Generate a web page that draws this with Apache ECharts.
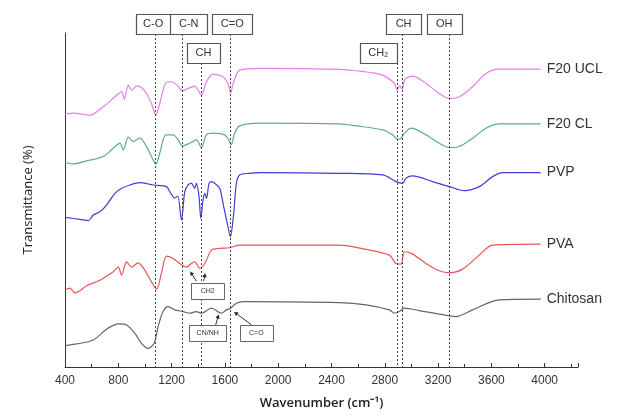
<!DOCTYPE html>
<html>
<head>
<meta charset="utf-8">
<script src="https://cdn.jsdelivr.net/npm/echarts@6/dist/echarts.min.js"></script>
<style>
  html, body { margin: 0; padding: 0; background: #fff; }
  #main { width: 624px; height: 418px; }
</style>
</head>
<body>
<div id="main"></div>
<script>
// FTIR spectra, [wavenumber, transmittance (offset, a.u.)]
var f20ucl = [
  [400, 75.7], [462, 76.0], [587, 75.4], [687, 77.9], [775, 80.9], [825, 82.4],
  [845, 80.2], [875, 84.4], [900, 82.9], [937, 84.1], [974, 83.7], [1012, 81.9],
  [1049, 78.9], [1082, 75.4], [1111, 78.9], [1157, 85.1], [1199, 85.4], [1241, 84.4],
  [1281, 82.7], [1324, 83.4], [1373, 84.1], [1424, 81.4], [1461, 85.4], [1511, 87.7],
  [1586, 86.9], [1623, 84.9], [1643, 82.1], [1666, 85.4], [1711, 88.9], [1861, 89.4],
  [2460, 89.1], [2585, 88.7], [2784, 87.4], [2872, 84.9], [2893, 83.0], [2910, 84.2],
  [2930, 83.2], [2945, 85.6], [2965, 86.6], [3009, 87.1], [3109, 84.9], [3209, 81.9],
  [3284, 80.4], [3359, 80.9], [3459, 83.9], [3559, 87.9], [3658, 89.2], [3970, 89.2]
];
var f20cl = [
  [400, 61.3], [462, 60.8], [562, 61.7], [687, 63.0], [775, 66.0], [812, 67.0],
  [837, 65.0], [875, 68.8], [912, 67.5], [962, 68.5], [1012, 66.0], [1049, 63.0],
  [1082, 60.8], [1111, 64.0], [1157, 69.5], [1211, 69.5], [1249, 68.0], [1281, 66.2],
  [1336, 67.0], [1386, 68.0], [1424, 65.7], [1461, 69.5], [1511, 70.0], [1598, 69.5],
  [1626, 68.2], [1648, 66.5], [1673, 70.0], [1711, 72.2], [1861, 73.0], [2460, 72.8],
  [2585, 72.2], [2784, 71.0], [2859, 69.5], [2897, 68.2], [2922, 68.5], [2947, 70.0],
  [2997, 71.5], [3109, 69.5], [3209, 67.0], [3284, 65.7], [3359, 66.0], [3459, 68.5],
  [3559, 71.5], [3658, 72.8], [3970, 72.8]
];
var pvp = [
  [400, 44.8], [512, 44.2], [575, 43.8], [612, 45.5], [662, 46.5], [712, 48.5],
  [775, 52.0], [825, 53.5], [887, 54.5], [962, 55.2], [1062, 54.5], [1162, 54.0],
  [1186, 52.5], [1224, 50.6], [1246, 51.2], [1274, 44.0], [1299, 52.5], [1324, 54.5],
  [1349, 55.0], [1374, 53.5], [1386, 55.0], [1406, 51.0], [1419, 44.5], [1436, 50.0],
  [1449, 52.0], [1462, 50.5], [1481, 55.0], [1499, 55.5], [1524, 55.0], [1561, 53.5],
  [1591, 48.0], [1623, 42.0], [1641, 39.0], [1666, 46.0], [1686, 55.0], [1711, 57.5],
  [1786, 58.0], [1861, 58.2], [2460, 58.0], [2784, 57.5], [2884, 55.5], [2934, 55.0],
  [2959, 56.5], [3009, 57.2], [3159, 55.5], [3284, 54.0], [3396, 52.8], [3509, 54.0],
  [3609, 57.0], [3684, 58.2], [3970, 58.2]
];
var pva = [
  [400, 23.1], [437, 23.6], [475, 22.2], [562, 24.3], [662, 26.0], [762, 28.5],
  [800, 29.9], [825, 27.5], [862, 31.5], [900, 29.9], [949, 31.2], [999, 29.0],
  [1049, 25.5], [1087, 23.3], [1124, 28.1], [1162, 33.2], [1211, 32.5], [1261, 31.0],
  [1311, 29.9], [1349, 31.0], [1374, 31.5], [1411, 29.6], [1449, 31.0], [1499, 35.0],
  [1561, 35.5], [1636, 35.7], [1711, 36.5], [2460, 36.5], [2660, 35.2], [2834, 33.5],
  [2884, 31.0], [2922, 30.8], [2947, 34.5], [3009, 33.8], [3109, 31.0], [3209, 28.8],
  [3284, 28.2], [3384, 29.3], [3509, 33.5], [3609, 36.5], [3970, 36.8]
];
var chitosan = [
  [400, 6.4], [487, 6.9], [612, 8.1], [712, 11.3], [800, 12.9], [862, 12.6],
  [924, 10.1], [974, 7.1], [1024, 5.6], [1069, 7.1], [1099, 12.1], [1136, 16.6],
  [1174, 18.1], [1224, 17.1], [1286, 16.6], [1336, 16.1], [1386, 16.6], [1424, 16.1],
  [1499, 17.6], [1574, 16.1], [1611, 17.1], [1641, 17.6], [1686, 19.1], [1736, 19.6],
  [2460, 19.3], [2660, 18.6], [2834, 17.1], [2872, 16.1], [2910, 16.6], [2947, 17.6],
  [3059, 16.9], [3284, 15.3], [3334, 15.1], [3459, 17.1], [3658, 20.1], [3970, 20.3]
];

var seriesNames = ['F20 UCL', 'F20 CL', 'PVP', 'PVA', 'Chitosan'];
var seriesColors = ['#e77ee9', '#62a79f', '#3d3ddb', '#e8555a', '#666666'];

// band assignments: dashed line position, label, row (0 = top, 1 = lower)
var bandWn = [1080, 1280, 1420, 1640, 2890, 2930, 3280];
var bandText = ['C-O', 'C-N', 'CH', 'C=O', 'CH₂', 'CH', 'OH'];
var bandRow = [0, 0, 1, 0, 1, 0, 0];
var bandShift = [-20, -12, -14, -18, -37, -16, -22];
var bandWidth = [35, 37, 33, 40, 37, 35, 35];

// small call-outs near the bottom curves
var calloutText = ['CH2', 'CN/NH', 'C=O'];
var calloutBox = [[1471, 22.8], [1471, 10.1], [1836, 10.1]];
var calloutWidth = [33, 37, 33];
var arrowTail = [[1386, 25.7], [1441, 25.7], [1531, 12.6], [1800, 12.6]];
var arrowTip = [[1340, 28.6], [1452, 28.1], [1553, 15.7], [1669, 16.5]];

var rowBottom = [99.7, 91.0];

var chart = echarts.init(document.getElementById('main'));
var allData = [f20ucl, f20cl, pvp, pva, chitosan];

var series = allData.map(function (d, i) {
  return {
    name: seriesNames[i],
    type: 'line',
    data: d,
    showSymbol: false,
    smooth: 0.3,
    lineStyle: { color: seriesColors[i], width: 1.2 },
    itemStyle: { color: seriesColors[i] },
    endLabel: {
      show: true,
      formatter: '{a}',
      color: '#333',
      fontSize: 14,
      fontFamily: 'Liberation Sans',
      distance: 6
    }
  };
});

series[4].markLine = {
  silent: true,
  symbol: 'none',
  label: { show: false },
  lineStyle: { color: '#444', type: [2, 2], width: 1 },
  data: bandWn.map(function (w, i) {
    return [{ coord: [w, rowBottom[bandRow[i]]] }, { coord: [w, 0] }];
  })
};

chart.setOption({
  animation: false,
  grid: { left: 65, right: 46, top: 33, bottom: 51 },
  xAxis: {
    type: 'value',
    min: 400,
    max: 4250,
    interval: 400,
    name: 'Wavenumber (cm⁻¹)',
    nameLocation: 'middle',
    nameGap: 30,
    nameTextStyle: { fontSize: 13, color: '#222', fontFamily: 'Open Sans', fontWeight: 600 },
    axisLine: { lineStyle: { color: '#333', width: 1 } },
    axisTick: { inside: true, length: 4, lineStyle: { color: '#333' } },
    minorTick: { show: true, splitNumber: 2, length: 3, lineStyle: { color: '#333' } },
    axisLabel: {
      color: '#333', fontSize: 12, fontFamily: 'Liberation Sans', margin: 8, showMaxLabel: false,
      formatter: function (v) { return String(v); }
    },
    splitLine: { show: false }
  },
  yAxis: {
    type: 'value',
    min: 0,
    max: 100,
    name: 'Transmittance (%)',
    nameLocation: 'middle',
    nameGap: 30,
    nameTextStyle: { fontSize: 13, color: '#222', fontFamily: 'Open Sans' },
    axisLine: { show: true, lineStyle: { color: '#333', width: 1 } },
    axisTick: { show: false },
    axisLabel: { show: false },
    splitLine: { show: false }
  },
  series: series
});

// annotation boxes and arrows, placed through the axes
function toPx(p) {
  return chart.convertToPixel({ gridIndex: 0 }, p);
}
var elements = [];
bandWn.forEach(function (w, i) {
  var p = toPx([w, rowBottom[bandRow[i]]]);
  elements.push({
    type: 'rect',
    shape: { x: Math.round(p[0] + bandShift[i]) + 0.5, y: Math.round(p[1] - 20) + 0.5, width: bandWidth[i], height: 20 },
    style: { fill: '#fff', stroke: '#555', lineWidth: 1.2 },
    z: 10
  });
  elements.push({
    type: 'text',
    x: p[0] + bandShift[i] + bandWidth[i] / 2,
    y: p[1] - 10,
    style: { text: bandText[i], fill: '#333', fontSize: 11, fontFamily: 'Liberation Sans', align: 'center', verticalAlign: 'middle' },
    z: 11
  });
});
calloutText.forEach(function (t, i) {
  var c = toPx(calloutBox[i]);
  var w = calloutWidth[i];
  elements.push({
    type: 'rect',
    shape: { x: Math.round(c[0] - w / 2) + 0.5, y: Math.round(c[1] - 8) + 0.5, width: w, height: 16 },
    style: { fill: '#fff', stroke: '#666', lineWidth: 1 },
    z: 10
  });
  elements.push({
    type: 'text',
    x: c[0],
    y: c[1],
    style: { text: t, fill: '#333', fontSize: 7, fontFamily: 'Liberation Sans', align: 'center', verticalAlign: 'middle' },
    z: 11
  });
});
arrowTail.forEach(function (tail, i) {
  var a = toPx(tail), b = toPx(arrowTip[i]);
  var dx = b[0] - a[0], dy = b[1] - a[1];
  var len = Math.sqrt(dx * dx + dy * dy);
  var ux = dx / len, uy = dy / len;
  var hl = 4, hw = 2.2;
  var bx = b[0] - ux * hl, by = b[1] - uy * hl;
  elements.push({
    type: 'line',
    shape: { x1: a[0], y1: a[1], x2: bx, y2: by },
    style: { stroke: '#333', lineWidth: 1 },
    z: 11
  });
  elements.push({
    type: 'polygon',
    shape: { points: [[b[0], b[1]], [bx - uy * hw, by + ux * hw], [bx + uy * hw, by - ux * hw]] },
    style: { fill: '#222' },
    z: 11
  });
});
chart.setOption({ graphic: elements });
</script>
</body>
</html>
